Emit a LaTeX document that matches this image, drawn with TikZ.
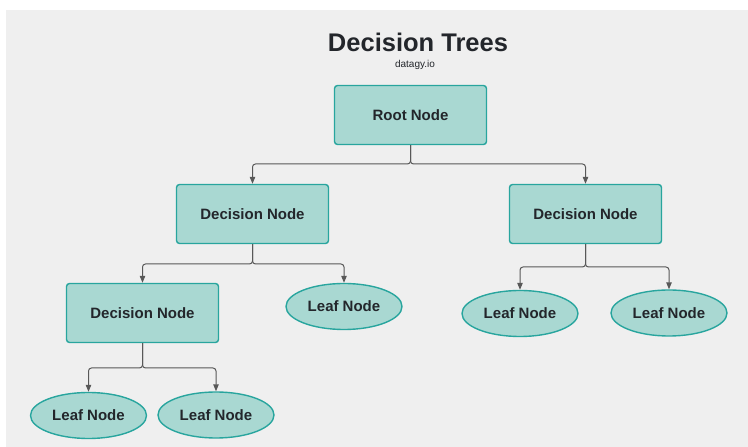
\documentclass[tikz,border=0pt]{standalone}
\usepackage{fontspec}
\setmainfont{Liberation Sans}
\usetikzlibrary{arrows.meta,shapes.geometric}

\definecolor{paper}{RGB}{239,239,239}
\definecolor{nodefill}{RGB}{169,216,210}
\definecolor{nodeline}{RGB}{40,165,158}
\definecolor{linkgray}{RGB}{88,88,88}
\definecolor{inkdark}{RGB}{35,38,43}

\begin{document}
\begin{tikzpicture}[x=1pt,y=1pt,
  decision/.style={draw=nodeline,fill=nodefill,line width=1.4pt,rounded corners=3pt,
    minimum width=152pt,minimum height=59pt,inner sep=0pt,
    text=inkdark,font=\fontsize{15}{18}\selectfont\bfseries},
  leaf/.style={ellipse,draw=nodeline,fill=nodefill,line width=1.4pt,
    minimum width=116pt,minimum height=46pt,inner sep=0pt,
    text=inkdark,font=\fontsize{15}{18}\selectfont\bfseries},
  link/.style={draw=linkgray,line width=1pt,rounded corners=3pt,
    -{Triangle[length=7pt,width=5.5pt]}}]
  \useasboundingbox (0,0) rectangle (748,447);
  \fill[white] (0,0) rectangle (748,447);
  \fill[paper] (6,0) rectangle (748,437);

  %%%%%%%%%%%%%title%%%%%%%%%%%%%%%%%%%%%%
  \node[anchor=base,text=inkdark,font=\fontsize{25.5}{30}\selectfont\bfseries] (title) at (418,395) {Decision Trees};
  \node[anchor=base,text=inkdark,font=\fontsize{10}{12}\selectfont] (site) at (415,379) {datagy.io};

  %%%%%%%%%%%%%nodes%%%%%%%%%%%%%%%%%%%%%%
  \node[decision] (root) at (410.5,332) {Root Node};
  \node[decision] (decl) at (252.5,233) {Decision Node};
  \node[decision] (decr) at (585.5,233) {Decision Node};
  \node[decision] (decll) at (142.5,134) {Decision Node};
  \node[leaf] (leafa) at (344,140.5) {Leaf Node};
  \node[leaf] (leafb) at (520,133.5) {Leaf Node};
  \node[leaf] (leafc) at (669,134) {Leaf Node};
  \node[leaf] (leafd) at (88.5,31.5) {Leaf Node};
  \node[leaf] (leafe) at (216,32) {Leaf Node};

  %%%%%%%%%%%%%links%%%%%%%%%%%%%%%%%%%%%%
  \draw[link] (root.south) -- (root.south |- 0,283) -| (decl.north);
  \draw[link] (root.south) -- (root.south |- 0,283) -| (decr.north);
  \draw[link] (decl.south) -- (decl.south |- 0,183) -| (decll.north);
  \draw[link] (decl.south) -- (decl.south |- 0,183) -| (leafa.north);
  \draw[link] (decr.south) -- (decr.south |- 0,180) -| (leafb.north);
  \draw[link] (decr.south) -- (decr.south |- 0,180) -| (leafc.north);
  \draw[link] (decll.south) -- (decll.south |- 0,79) -| (leafd.north);
  \draw[link] (decll.south) -- (decll.south |- 0,79) -| (leafe.north);
\end{tikzpicture}
\end{document}
